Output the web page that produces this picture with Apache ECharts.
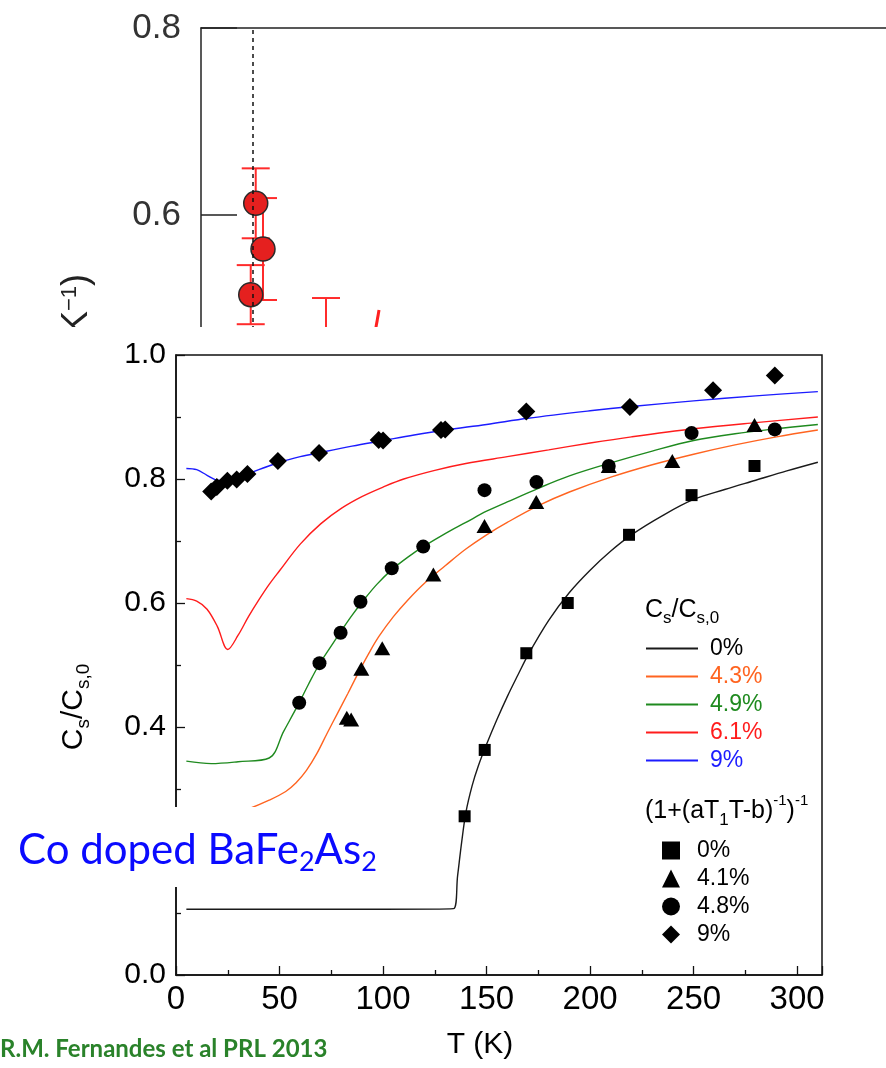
<!DOCTYPE html>
<html>
<head>
<meta charset="utf-8">
<script src="https://cdn.jsdelivr.net/npm/echarts@6/dist/echarts.min.js"></script>
<style>
html, body { margin: 0; padding: 0; background: #fff; }
#app { width: 886px; height: 1068px; }
</style>
</head>
<body>
<div id="app"></div>
<script>
// ---- upper (cut off) panel: red points with error bars
const topT = [7.99, 9.05, 7.26, 18.25]
const topV = [0.6125, 0.5636, 0.5148, 0.45]
const topErr = [0.0374, 0.0545, 0.0316, 0.0612]
const topDashT = 7.59
const topSlant = [[23.6, 0.40], [25.99, 0.4984]]

// ---- lower panel: Cs/Cs,0 fits (lines)
const fitNames = ['0%', '4.3%', '4.9%', '6.1%', '9%']
const fitColors = ['#1a1a1a', '#ff6420', '#1f8a1f', '#ff1c1c', '#1c1cff']
const fit0 = [[5,0.106],[50,0.106],[100,0.106],[134,0.107],[136,0.16],[138,0.215],[140,0.262],[143,0.305],[146,0.337],[150,0.372],[155,0.412],[160,0.449],[165,0.483],[170,0.516],[180,0.572],[190,0.617],[200,0.653],[210,0.684],[220,0.71],[235,0.741],[250,0.767],[265,0.783],[280,0.798],[295,0.813],[310,0.827]]
const fit43 = [[5,0.245],[20,0.252],[35,0.268],[45,0.282],[53,0.296],[58,0.31],[63,0.33],[68,0.357],[73,0.39],[78,0.422],[83,0.454],[88,0.487],[93,0.518],[98,0.546],[105,0.578],[112,0.605],[120,0.632],[130,0.66],[140,0.687],[150,0.71],[160,0.73],[175,0.757],[190,0.779],[210,0.803],[230,0.823],[250,0.84],[270,0.855],[290,0.868],[310,0.879]]
const fit49 = [[5,0.345],[17,0.341],[30,0.344],[45,0.35],[52,0.393],[59,0.436],[64,0.469],[69,0.5],[75,0.531],[80,0.556],[85,0.58],[90,0.602],[97,0.63],[104,0.653],[112,0.674],[120,0.692],[130,0.712],[140,0.73],[150,0.748],[160,0.763],[175,0.785],[190,0.805],[210,0.826],[230,0.845],[250,0.862],[270,0.873],[290,0.881],[310,0.888]]
const fit61 = [[5,0.607],[10,0.603],[15,0.59],[20,0.562],[25,0.525],[30,0.548],[35,0.578],[40,0.605],[45,0.63],[50,0.652],[60,0.695],[70,0.728],[80,0.753],[90,0.772],[100,0.787],[110,0.8],[125,0.814],[140,0.825],[160,0.836],[180,0.847],[200,0.858],[220,0.868],[250,0.881],[280,0.891],[310,0.9]]
const fit9 = [[5,0.817],[10,0.815],[15,0.806],[20,0.798],[25,0.797],[30,0.801],[40,0.815],[50,0.827],[60,0.836],[70,0.843],[85,0.853],[100,0.862],[115,0.871],[130,0.879],[150,0.888],[170,0.898],[200,0.91],[220,0.917],[250,0.926],[280,0.934],[310,0.941]]
const fitCurves = [fit0, fit43, fit49, fit61, fit9]

// ---- lower panel: (1+(aT1T-b)^-1)^-1 points
const ptNames = ['0%', '4.1%', '4.8%', '9%']
const ptSymbols = ['rect', 'triangle', 'circle', 'diamond']
const ptSizes = [12, [16, 14], 14, [18, 18]]
const pts0 = [[139.4,0.256],[149.1,0.363],[169.2,0.519],[189.2,0.6],[218.8,0.71],[249,0.774],[279.4,0.821]]
const pts41 = [[82.5,0.415],[84.6,0.412],[89.5,0.494],[99.6,0.527],[124.3,0.646],[149,0.724],[174,0.763],[209,0.821],[239.7,0.829],[279.4,0.887]]
const pts48 = [[59.5,0.439],[69.3,0.503],[79.5,0.552],[89.1,0.602],[104.2,0.656],[119.4,0.691],[149,0.782],[174.1,0.795],[209,0.821],[249,0.874],[289.2,0.88]]
const pts9 = [[17,0.78],[19.7,0.787],[24.8,0.797],[29.3,0.799],[34.5,0.808],[49.2,0.829],[69.1,0.842],[97.9,0.863],[100,0.862],[128,0.879],[130,0.88],[169.2,0.909],[219.2,0.916],[259.4,0.943],[289.2,0.967]]
const ptSets = [pts0, pts41, pts48, pts9]

const xTicks = { min: 0, max: 312, interval: 50 }
const yTicks = { min: 0, max: 1, interval: 0.2 }

const SANS = "'Liberation Sans', Arial, sans-serif"
const NARROW = "'Liberation Sans Narrow', 'Liberation Sans', Arial, sans-serif"
const AX = '#111'

const myChart = echarts.init(document.getElementById('app'))

const series = []

// upper panel
series.push({
    type: 'custom', xAxisIndex: 0, yAxisIndex: 0, z: 2, silent: true,
    data: topT.map((t, i) => [t, topV[i] - topErr[i], topV[i] + topErr[i]]),
    encode: { x: 0, y: [1, 2] },
    renderItem: (params, api) => {
        const lo = api.coord([api.value(0), api.value(1)])
        const hi = api.coord([api.value(0), api.value(2)])
        const w = 14
        const st = { stroke: '#ff2b2b', lineWidth: 2 }
        return {
            type: 'group', children: [
                { type: 'line', shape: { x1: lo[0], y1: lo[1], x2: hi[0], y2: hi[1] }, style: st },
                { type: 'line', shape: { x1: hi[0] - w, y1: hi[1], x2: hi[0] + w, y2: hi[1] }, style: st },
                { type: 'line', shape: { x1: lo[0] - w, y1: lo[1], x2: lo[0] + w, y2: lo[1] }, style: st }
            ]
        }
    }
})
series.push({
    type: 'scatter', xAxisIndex: 0, yAxisIndex: 0, z: 3, silent: true,
    data: topT.map((t, i) => [t, topV[i]]),
    symbol: 'circle', symbolSize: 24,
    itemStyle: { color: '#e5201f', borderColor: '#2a2a2a', borderWidth: 1.5, opacity: 1 },
    markLine: {
        silent: true, symbol: 'none', label: { show: false },
        lineStyle: { color: '#111', type: [4, 4], width: 1.5 },
        data: [{ xAxis: topDashT }]
    }
})
series.push({
    type: 'line', xAxisIndex: 0, yAxisIndex: 0, z: 2, silent: true,
    data: topSlant, symbol: 'none',
    lineStyle: { color: '#ff2020', width: 3 }
})

// lower panel lines
fitNames.forEach((n, i) => {
    series.push({
        name: n, type: 'line', xAxisIndex: 1, yAxisIndex: 1, z: 30, silent: true,
        data: fitCurves[i], symbol: 'none', smooth: 0.35,
        lineStyle: { color: fitColors[i], width: 1.4 },
        itemStyle: { color: fitColors[i] }
    })
})
// lower panel points
ptNames.forEach((n, i) => {
    series.push({
        name: 'T1T ' + n, type: 'scatter', xAxisIndex: 1, yAxisIndex: 1, z: 35, silent: true,
        data: ptSets[i], symbol: ptSymbols[i], symbolSize: ptSizes[i],
        itemStyle: { color: '#000', opacity: 1 }
    })
})

const sub = { fontSize: 17, lineHeight: 18, verticalAlign: 'bottom', fontFamily: SANS }
const sup = { fontSize: 15, lineHeight: 16, verticalAlign: 'top', fontFamily: SANS }

const option = {
    animation: false,
    backgroundColor: '#fff',
    grid: [
        { left: 201, top: 28, right: 0, bottom: 666, z: 0 },
        { left: 176, top: 355, right: 64, bottom: 93, z: 20, show: true,
          borderColor: AX, borderWidth: 1.5, backgroundColor: 'rgba(0,0,0,0)' }
    ],
    xAxis: [
        { gridIndex: 0, type: 'value', position: 'top', min: 0, max: 100,
          axisLine: { show: true, lineStyle: { color: '#222', width: 1.5 } },
          axisTick: { show: false }, axisLabel: { show: false }, splitLine: { show: false } },
        { gridIndex: 1, type: 'value', z: 30, ...xTicks,
          name: 'T (K)', nameLocation: 'middle', nameGap: 55,
          nameTextStyle: { fontSize: 30, fontFamily: NARROW, color: '#000', padding: [0, 38, 0, 0] },
          axisLine: { show: true, onZero: false, lineStyle: { color: AX, width: 1.5 } },
          axisTick: { show: true, inside: true, length: 9, lineStyle: { color: AX, width: 1.3 } },
          minorTick: { show: true, splitNumber: 2, length: 5, lineStyle: { color: AX, width: 1.3 } },
          axisLabel: { fontSize: 33, fontFamily: NARROW, color: '#000', margin: 8, showMaxLabel: false },
          splitLine: { show: false }, minorSplitLine: { show: false } }
    ],
    yAxis: [
        { gridIndex: 0, type: 'value', min: 0.4, max: 0.8, interval: 0.2,
          axisLine: { show: true, lineStyle: { color: '#222', width: 1.5 } },
          axisTick: { show: true, inside: true, length: 36, lineStyle: { color: '#222', width: 1.5 } },
          axisLabel: { fontSize: 35, fontFamily: SANS, color: '#333', margin: 20, formatter: v => v.toFixed(1) },
          splitLine: { show: false } },
        { gridIndex: 1, type: 'value', z: 30, ...yTicks,
          axisLine: { show: true, onZero: false, lineStyle: { color: AX, width: 1.5 } },
          axisTick: { show: true, inside: true, length: 9, lineStyle: { color: AX, width: 1.3 } },
          minorTick: { show: true, splitNumber: 2, length: 5, lineStyle: { color: AX, width: 1.3 } },
          axisLabel: { fontSize: 30, fontFamily: SANS, color: '#000', margin: 10, formatter: v => v.toFixed(1) },
          splitLine: { show: false }, minorSplitLine: { show: false } }
    ],
    legend: [
        { data: fitNames.map((n, i) => ({ name: n, textStyle: { color: i === 0 ? '#000' : fitColors[i] } })),
          orient: 'vertical', left: 640, top: 632, itemWidth: 52, itemHeight: 20, itemGap: 5,
          selectedMode: false, z: 40, itemStyle: { opacity: 0 },
          textStyle: { fontSize: 23, fontFamily: NARROW, padding: [0, 0, 0, 7] } },
        { data: ptNames.map(n => 'T1T ' + n), formatter: n => n.replace('T1T ', ''),
          orient: 'vertical', left: 657, top: 834, itemWidth: 18, itemHeight: 18, itemGap: 5,
          selectedMode: false, z: 40,
          itemStyle: { color: '#000' },
          textStyle: { fontSize: 23, color: '#000', fontFamily: NARROW, padding: [0, 0, 0, 12] } }
    ],
    graphic: { elements: [
        // unit of the upper panel, partly hidden
        { type: 'text', x: 77, y: 274, rotation: Math.PI / 2, z: 3, silent: true,
          style: { text: '(K{p|−1})', align: 'right', verticalAlign: 'middle', fill: '#222',
                   font: "36px 'Liberation Sans'",
                   rich: { p: { fontSize: 22, lineHeight: 22, verticalAlign: 'top', fill: '#222' } } } },
        // white sheet of the lower panel
        { type: 'rect', shape: { x: 0, y: 327, width: 886, height: 741 }, style: { fill: '#fff' }, z: 10, silent: true },
        // y axis title of the lower panel
        { type: 'text', x: 74, y: 707, rotation: Math.PI / 2, z: 36, silent: true,
          style: { text: '{m|C}{s|s}{m|/C}{s|s,0}', align: 'center', verticalAlign: 'middle', fill: '#000',
                   rich: { m: { fontSize: 30, lineHeight: 38, fontFamily: SANS },
                           s: { fontSize: 19, lineHeight: 20, verticalAlign: 'bottom', fontFamily: SANS } } } },
        // legend titles
        { type: 'text', x: 645, y: 610, z: 40, silent: true,
          style: { text: '{m|C}{s|s}{m|/C}{s|s,0}', align: 'left', verticalAlign: 'middle', fill: '#000',
                   rich: { m: { fontSize: 25, lineHeight: 34, fontFamily: SANS }, s: sub } } },
        { type: 'text', x: 645, y: 811, z: 40, silent: true,
          style: { text: '{m|(1+(aT}{s|1}{m|T-b)}{p|-1}{m|)}{p|-1}', align: 'left', verticalAlign: 'middle', fill: '#000',
                   rich: { m: { fontSize: 25, lineHeight: 36, fontFamily: SANS }, s: sub, p: sup } } },
        // caption box
        { type: 'rect', shape: { x: 8, y: 807, width: 384, height: 80 }, style: { fill: '#fff' }, z: 50, silent: true },
        { type: 'text', x: 18, y: 850, z: 51, silent: true,
          style: { text: '{m|Co doped BaFe}{s|2}{m|As}{s|2}', align: 'left', verticalAlign: 'middle', fill: '#0a0aff',
                   rich: { m: { fontSize: 42, lineHeight: 52, fontFamily: 'Lato' },
                           s: { fontSize: 27, lineHeight: 30, verticalAlign: 'bottom', fontFamily: 'Lato' } } } },
        // reference
        { type: 'text', x: 0, y: 1049, z: 40, silent: true,
          style: { text: 'R.M. Fernandes et al PRL 2013', align: 'left', verticalAlign: 'middle', fill: '#2a822a',
                   font: "bold 24px Lato" } }
    ] },
    series: series
}

myChart.setOption(option)
</script>
</body>
</html>
